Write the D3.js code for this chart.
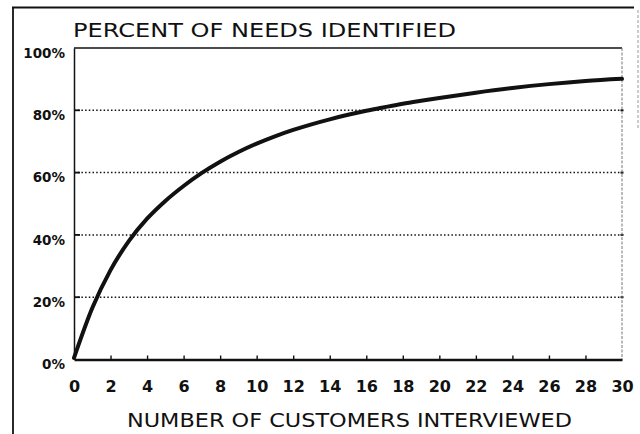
<!DOCTYPE html>
<html>
<head>
<meta charset="utf-8">
<script src="https://cdn.jsdelivr.net/npm/d3@7"></script>
<style>
  html, body { margin: 0; padding: 0; background: #fff; }
  svg { display: block; }
  text { font-family: "DejaVu Sans", "Liberation Sans", sans-serif; fill: #111; }
</style>
</head>
<body>
<svg id="chart" width="640" height="434"></svg>
<script>
// ---- data ----
const customers = [0, 1, 2, 3, 4, 5, 6, 7, 8, 9, 10, 11, 12, 13, 14, 15, 16, 17, 18, 19, 20, 22, 24, 26, 28, 30];
const percentIdentified = [0.5, 16.5, 28.7, 38.0, 45.2, 50.9, 55.7, 59.9, 63.5, 66.6, 69.3, 71.65, 73.7, 75.5, 77.1, 78.55, 79.85, 81.0, 82.1, 83.05, 83.95, 85.65, 87.15, 88.4, 89.4, 90.1];
const yTickValues = [0, 20, 40, 60, 80, 100];
const yTickLabels = ["0%", "20%", "40%", "60%", "80%", "100%"];
const xTickValues = [0, 2, 4, 6, 8, 10, 12, 14, 16, 18, 20, 22, 24, 26, 28, 30];
const titleText = "PERCENT OF NEEDS IDENTIFIED";
const xTitleText = "NUMBER OF CUSTOMERS INTERVIEWED";

// ---- layout ----
const svg = d3.select("#chart");
const mLeft = 74, mRight = 622, mTop = 48, mBottom = 359.5;
const x = d3.scaleLinear().domain([0, 30]).range([mLeft, mRight]);
const y = d3.scaleLinear().domain([0, 100]).range([mBottom, mTop]);
const ink = "#111";
const inner = yTickValues.filter(d => d > 0 && d < 100);

// outer frame (scanned page border)
svg.append("line").attr("x1", 12).attr("x2", 634).attr("y1", 7.5).attr("y2", 7.5)
  .attr("stroke", ink).attr("stroke-width", 2.2);
svg.append("line").attr("x1", 13).attr("x2", 13).attr("y1", 7).attr("y2", 434)
  .attr("stroke", ink).attr("stroke-width", 1.8);
svg.append("line").attr("x1", 638).attr("x2", 638).attr("y1", 10).attr("y2", 130)
  .attr("stroke", "#999").attr("stroke-width", 1).attr("stroke-dasharray", "3,2");

// gridlines (dotted)
svg.append("g").selectAll("line").data(inner).join("line")
  .attr("x1", mLeft).attr("x2", mRight)
  .attr("y1", d => y(d)).attr("y2", d => y(d))
  .attr("stroke", ink).attr("stroke-width", 1.5).attr("stroke-dasharray", "1.5,2.2");

// short solid marks at left of gridlines & small marks at right
svg.append("g").selectAll("line").data(inner).join("line")
  .attr("x1", mLeft).attr("x2", mLeft + 6)
  .attr("y1", d => y(d)).attr("y2", d => y(d))
  .attr("stroke", ink).attr("stroke-width", 1.8);
svg.append("g").selectAll("line").data(inner).join("line")
  .attr("x1", mRight - 1.5).attr("x2", mRight + 1.5)
  .attr("y1", d => y(d)).attr("y2", d => y(d))
  .attr("stroke", ink).attr("stroke-width", 2);

// plot box: top line solid, right edge faint dashed
svg.append("line").attr("x1", mLeft).attr("x2", mRight).attr("y1", mTop).attr("y2", mTop)
  .attr("stroke", ink).attr("stroke-width", 1.6);
svg.append("line").attr("x1", mRight).attr("x2", mRight).attr("y1", mTop).attr("y2", mBottom)
  .attr("stroke", "#777").attr("stroke-width", 1).attr("stroke-dasharray", "3,1.5");

// y axis
const yAxis = d3.axisLeft(y).tickValues(yTickValues).tickSize(0)
  .tickFormat((d, i) => yTickLabels[i]);
const gy = svg.append("g").attr("transform", `translate(${mLeft},0)`).call(yAxis);
gy.select(".domain").attr("stroke", ink).attr("stroke-width", 1.5);
gy.selectAll(".tick text")
  .attr("x", -9).attr("dy", "0.75em").attr("y", -1)
  .style("font-size", "13.5px").style("font-weight", "bold")
  .attr("fill", ink);

// x axis
const xAxis = d3.axisBottom(x).tickValues(xTickValues).tickSizeOuter(0).tickSizeInner(-4).tickPadding(0);
const gx = svg.append("g").attr("transform", `translate(0,${mBottom})`).call(xAxis);
gx.select(".domain").attr("stroke", ink).attr("stroke-width", 2.6);
gx.selectAll(".tick line").attr("stroke", ink).attr("stroke-width", 1.4)
  .attr("display", d => (d === 0 || d === 30) ? "none" : null);
gx.selectAll(".tick text")
  .attr("y", 32).attr("dy", 0)
  .style("font-size", "16px").style("font-weight", "bold")
  .attr("fill", ink);

// curve
const pts = customers.map((c, i) => [c, percentIdentified[i]]);
const line = d3.line().x(d => x(d[0])).y(d => y(d[1])).curve(d3.curveMonotoneX);
svg.append("path").datum(pts).attr("d", line)
  .attr("fill", "none").attr("stroke", ink).attr("stroke-width", 4)
  .attr("stroke-linecap", "round").attr("stroke-linejoin", "round");

// titles
svg.append("text").attr("x", 73).attr("y", 37)
  .attr("textLength", 383).attr("lengthAdjust", "spacingAndGlyphs")
  .style("font-size", "19px").text(titleText);
svg.append("text").attr("x", 127).attr("y", 427)
  .attr("textLength", 445).attr("lengthAdjust", "spacingAndGlyphs")
  .style("font-size", "19px").text(xTitleText);
</script>
</body>
</html>
